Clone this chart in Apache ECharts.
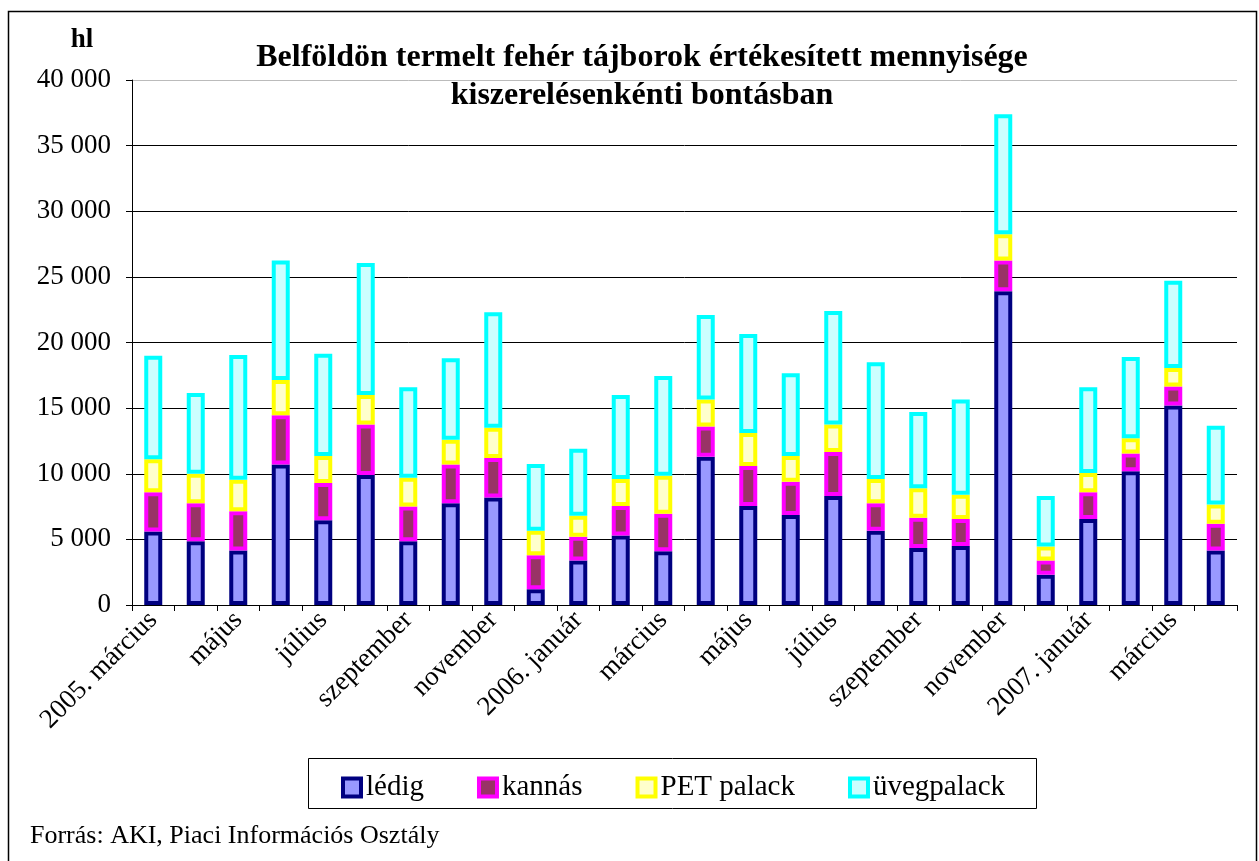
<!DOCTYPE html>
<html>
<head>
<meta charset="utf-8">
<script src="https://cdn.jsdelivr.net/npm/echarts@6/dist/echarts.min.js"></script>
<style>
html,body{margin:0;padding:0;background:#fff;}
#c{width:1259px;height:861px;}
</style>
</head>
<body>
<div id="c"></div>
<script>
const months = ['2005. március','április','május','június','július','augusztus','szeptember','október','november','december','2006. január','február','március','április','május','június','július','augusztus','szeptember','október','november','december','2007. január','február','március','április'];
const ledig  = [5600,4850,4150,10700,6450,9900,4850,7750,8200,1200,3400,5300,4100,11300,7550,6850,8300,5650,4350,4500,23900,2300,6550,10200,15200,4150];
const kannas = [3000,2900,3000,3750,2850,3850,2650,2950,3000,2600,1800,2250,2850,2300,3050,2550,3350,2100,2300,2050,2350,1100,2050,1350,1450,2050];
const pet    = [2500,2250,2400,2700,2050,2250,2200,1900,2300,1850,1600,2050,2900,2050,2500,1950,2100,1850,2250,1850,2000,1050,1450,1150,1400,1450];
const uveg   = [7900,6150,9500,9100,7800,10050,6900,6200,8800,5100,5100,6400,7600,6450,7550,6300,8650,8900,5800,7250,9150,3850,6550,6200,6650,6000];
const seriesNames = ['lédig','kannás','PET palack','üvegpalack'];
const titleText = 'Belföldön termelt fehér tájborok értékesített mennyisége\nkiszerelésenkénti bontásban';
const unitText = 'hl';
const sourceText = 'Forrás: AKI, Piaci Információs Osztály';

const FONT = '"Liberation Serif","Times New Roman",serif';
const fills = ['#9999FF','#993366','#FFFFCC','#CCFFFF'];
const borders = ['#000080','#FF00FF','#FFFF00','#00FFFF'];
const values = [ledig, kannas, pet, uveg];

const chart = echarts.init(document.getElementById('c'), null, {renderer:'canvas'});
const fmt = v => String(v).replace(/\B(?=(\d{3})+(?!\d))/g, ' ');

const option = {
  animation: false,
  backgroundColor: '#fff',
  grid: {left: 132, right: 22, top: 80, bottom: 256, containLabel: false},
  xAxis: {
    type: 'category',
    data: months,
    boundaryGap: true,
    axisLine: {show: true, lineStyle: {color: '#000', width: 1}},
    axisTick: {show: true, interval: 0, length: 6, lineStyle: {color: '#000'}},
    axisLabel: {interval: 1, rotate: 45, margin: 11, fontFamily: FONT, fontSize: 27, color: '#000'}
  },
  yAxis: {
    type: 'value',
    min: 0, max: 40000, interval: 5000,
    axisLine: {show: true, lineStyle: {color: '#000', width: 1}},
    axisTick: {show: true, length: 6, lineStyle: {color: '#000'}},
    axisLabel: {margin: 21, fontFamily: FONT, fontSize: 27, color: '#000', formatter: fmt},
    splitLine: {show: true, lineStyle: {color: ['#000','#000','#000','#000','#000','#000','#000','#000','#bbb'], width: 1}}
  },
  legend: {
    data: seriesNames.map((n,i)=>({name:n, itemStyle:{color: fills[i], borderColor: borders[i], borderWidth: 4}})),
    left: 336, top: 768,
    itemWidth: 18, itemHeight: 18, itemGap: 53,
    icon: 'rect',
    textStyle: {fontFamily: FONT, fontSize: 29, color: '#000'},
    selectedMode: false
  },
  graphic: [
    {type:'rect', silent:true, shape:{x:8.5, y:11.5, width:1248, height:870}, style:{fill:'none', stroke:'#000', lineWidth:1.5}, z:-1},
    {type:'rect', silent:true, shape:{x:308.5, y:758.5, width:728, height:50}, style:{fill:'none', stroke:'#000', lineWidth:1}},
    {type:'text', x:642, y:39, style:{text:titleText, font:'bold 32px '+FONT, textAlign:'center', lineHeight:38, fill:'#000'}},
    {type:'text', x:82, y:27, style:{text:unitText, font:'bold 27px '+FONT, textAlign:'center', fill:'#000'}},
    {type:'text', x:30, y:823, style:{text:sourceText, font:'26px '+FONT, textAlign:'left', fill:'#000'}}
  ],
  series: values.map((arr,i)=>({
    name: seriesNames[i],
    type: 'bar',
    stack: 'total',
    data: arr,
    barWidth: 18,
    itemStyle: {color: fills[i], borderColor: borders[i], borderWidth: 4}
  }))
};
chart.setOption(option);
</script>
</body>
</html>
